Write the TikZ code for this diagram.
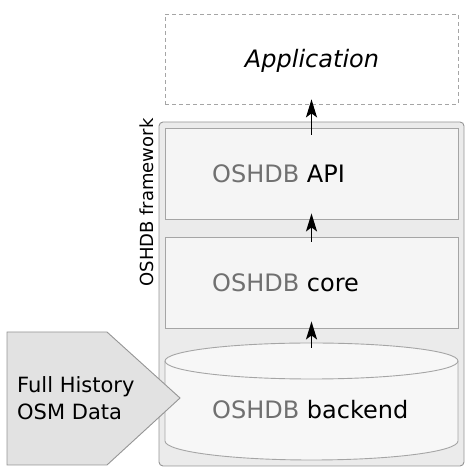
\documentclass[tikz,border=0pt]{standalone}
\usepackage{fontspec}
\setmainfont{DejaVu Sans}
\usetikzlibrary{arrows.meta}
\definecolor{oshgray}{HTML}{707070}
\definecolor{frameline}{HTML}{959595}
\definecolor{framefill}{HTML}{EBEBEB}
\definecolor{boxfill}{HTML}{F5F5F5}
\definecolor{boxline}{HTML}{A5A5A5}
\definecolor{pentfill}{HTML}{E2E2E2}
\begin{document}
\begin{tikzpicture}[x=1pt,y=1pt,
  layerbox/.style={draw=boxline,fill=boxfill,line width=0.9pt,minimum width=293pt,minimum height=91pt,inner sep=0pt},
  bigtext/.style={font=\fontsize{24}{28}\selectfont,anchor=west,inner sep=0pt},
  uparrow/.style={-{Stealth[length=18pt,width=11pt,inset=4pt]},line width=1.4pt,black},
  ]
\useasboundingbox (0,0) rectangle (474,471);
% application
\node[draw=boxline,dashed,dash pattern=on 4pt off 3pt,line width=0.8pt,minimum width=293pt,minimum height=90pt,inner sep=0pt] (app) at (311.5,412) {};
\node[font=\fontsize{24}{28}\selectfont\itshape,inner sep=0pt] (apptext) at (312,410) {Application};
% framework
\node[draw=frameline,fill=framefill,line width=0.9pt,rounded corners=4pt,minimum width=305pt,minimum height=344pt,inner sep=0pt] (frame) at (311.5,177) {};
\node[rotate=90,font=\fontsize{18}{22}\selectfont,inner sep=0pt] (framelabel) at (147,268.5) {OSHDB framework};
% layers
\node[layerbox] (api) at (311.5,297.5) {};
\node[bigtext] (apitext) at (212,297) {\textcolor{oshgray}{OSHDB} API};
\node[layerbox] (core) at (311.5,188.5) {};
\node[bigtext] (coretext) at (212,188) {\textcolor{oshgray}{OSHDB} core};
% cylinder
\node[minimum width=293pt,minimum height=117pt,inner sep=0pt] (backend) at (311.5,69.5) {};
\draw[draw=boxline,fill=white!97!black,line width=0.9pt]
  (165,110) -- (165,30) arc[start angle=180,end angle=360,x radius=146.5pt,y radius=19pt]
  -- (458,110) arc[start angle=0,end angle=180,x radius=146.5pt,y radius=18pt] -- cycle;
\draw[draw=boxline,line width=0.9pt] (165,110) arc[start angle=180,end angle=360,x radius=146.5pt,y radius=18pt];
\node[bigtext] (backendtext) at (212,61) {\textcolor{oshgray}{OSHDB} backend};
% input pentagon
\draw[draw=frameline,fill=pentfill,line width=0.9pt] (7,139) -- (107,139) -- (180,73) -- (107,6) -- (7,6) -- cycle;
\node[anchor=west,align=left,font=\fontsize{21}{27}\selectfont,inner sep=0pt] (input) at (17,72.5) {Full History\\OSM Data};
% arrows
\draw[uparrow] ([yshift=-5pt]backend.north) -- ([yshift=7pt]core.south);
\draw[uparrow] ([yshift=-5pt]core.north) -- ([yshift=6pt]api.south);
\draw[uparrow] ([yshift=-7pt]api.north) -- ([yshift=5pt]app.south);
\end{tikzpicture}
\end{document}
